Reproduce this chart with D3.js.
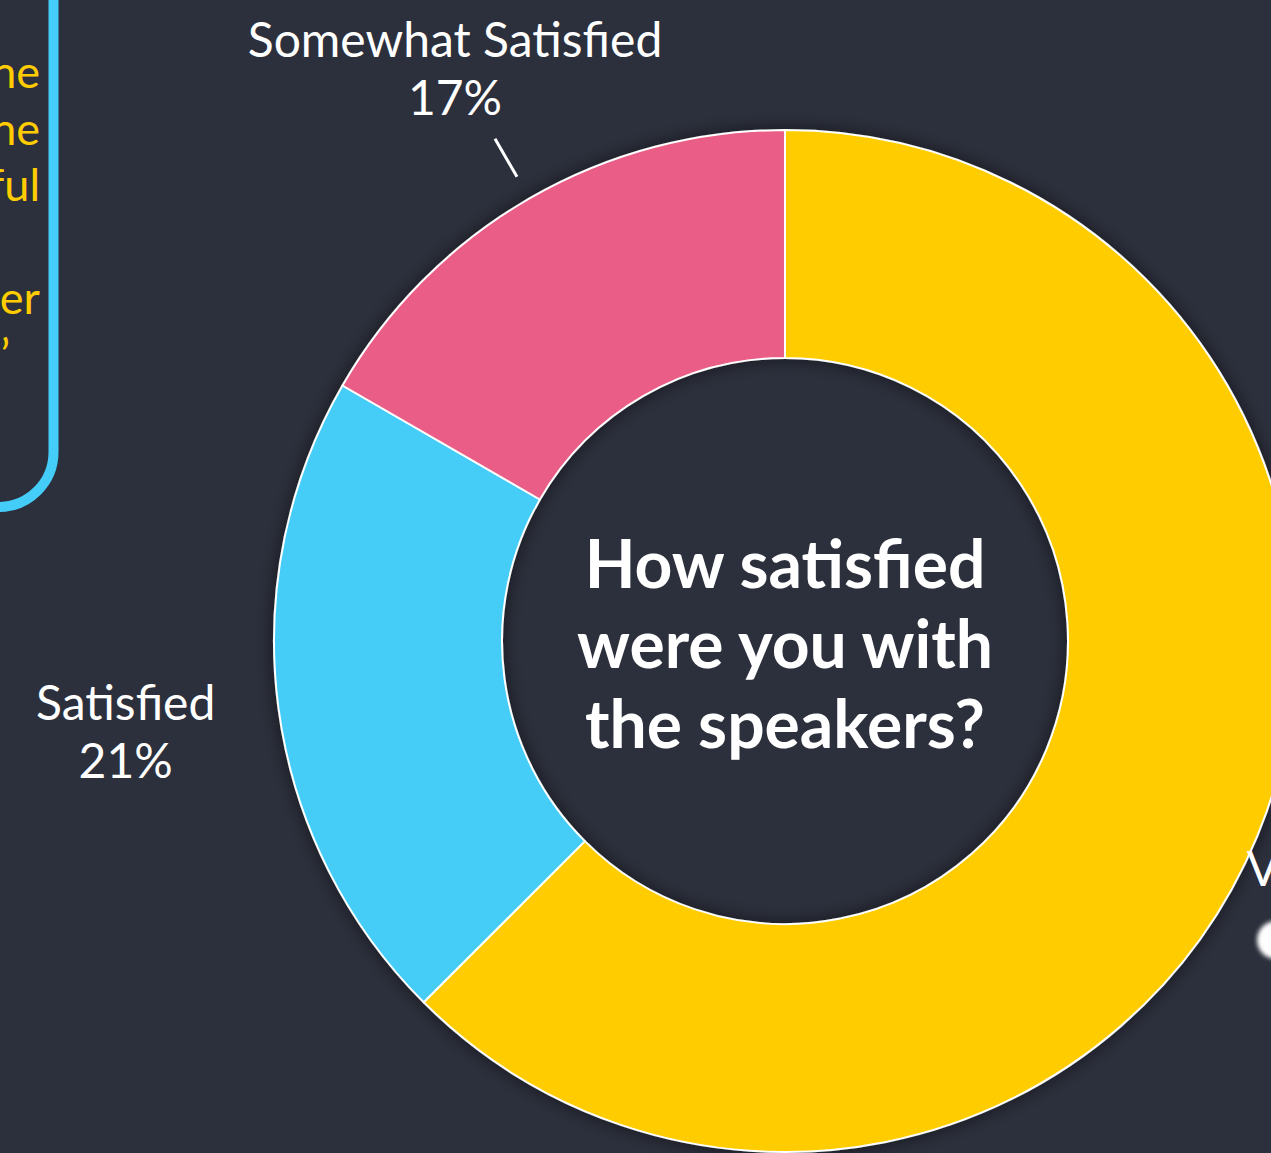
<!DOCTYPE html>
<html>
<head>
<meta charset="utf-8">
<script src="https://cdn.jsdelivr.net/npm/d3@7"></script>
<style>
  html, body { margin: 0; padding: 0; background: #2c303c; overflow: hidden; }
  svg { display: block; }
  text { font-family: Lato, "Open Sans", sans-serif; }
</style>
</head>
<body>
<div id="chart"></div>
<script>
// Câu hỏi: mức độ hài lòng với diễn giả
const categories = ["Very Satisfied", "Satisfied", "Somewhat Satisfied"];
const counts     = [15, 5, 4];           // 62.5% / 20.8% / 16.7%
const colors     = ["#ffcc00", "#44cdf8", "#e95d87"];
const showLeader = [true, false, true];
const title      = ["How satisfied", "were you with", "the speakers?"];
// đoạn văn bị cắt ở mép trái (chỉ thấy phần cuối dòng)
const sideText   = ["ne", "ne", "ful", "", "er"];
const sideTail   = "\u2019";

const width = 1271, height = 1153;
const cx = 785, cy = 641;
const rOuter = 511, rInner = 283;

const svg = d3.select("#chart").append("svg")
  .attr("width", width).attr("height", height);

svg.append("rect").attr("width", width).attr("height", height).attr("fill", "#2c303c");

const defs = svg.append("defs");
const sh = defs.append("filter").attr("id", "shadow")
  .attr("x", "-20%").attr("y", "-20%").attr("width", "140%").attr("height", "140%");
sh.append("feDropShadow").attr("dx", 0).attr("dy", 0)
  .attr("stdDeviation", 9).attr("flood-color", "#000").attr("flood-opacity", 0.55);
const blur = defs.append("filter").attr("id", "blur");
blur.append("feGaussianBlur").attr("stdDeviation", 2);

// 1) Khung xanh bên trái
const pr = 55, px = 53.5, pb = 507;
svg.append("path")
  .attr("d", `M${px},-10 L${px},${pb - pr} A${pr},${pr} 0 0 1 ${px - pr},${pb} L-20,${pb}`)
  .attr("fill", "none").attr("stroke", "#44cdf8").attr("stroke-width", 10);

svg.append("g").selectAll("text")
  .data(sideText)
  .join("text")
  .attr("x", 40)
  .attr("y", (d, i) => 88 + i * 56.5)
  .attr("text-anchor", "end")
  .attr("fill", "#ffcc00")
  .attr("font-size", 45)
  .text(d => d);
svg.append("text")
  .attr("x", 10).attr("y", 88 + 5 * 56.5)
  .attr("text-anchor", "end")
  .attr("fill", "#ffcc00").attr("font-size", 45)
  .text(sideTail);

// 2) Donut
const data = categories.map((c, i) => ({ cat: c, value: counts[i], color: colors[i], leader: showLeader[i] }));
const total = d3.sum(counts);
const pie = d3.pie().sort(null).value(d => d.value);
const arcs = pie(data);
const arc = d3.arc().innerRadius(rInner).outerRadius(rOuter);

const g = svg.append("g").attr("transform", `translate(${cx},${cy})`);

g.append("g").attr("filter", "url(#shadow)")
  .selectAll("path")
  .data(arcs)
  .join("path")
  .attr("d", arc)
  .attr("fill", d => d.data.color)
  .attr("stroke", "#fff")
  .attr("stroke-width", 2)
  .attr("stroke-linejoin", "round");

// 3) Đường dẫn nhãn
const pt = (a, r) => [Math.sin(a) * r, -Math.cos(a) * r];
const mid = d => (d.startAngle + d.endAngle) / 2;

g.selectAll("line.leader")
  .data(arcs.filter(d => d.data.leader))
  .join("line")
  .attr("class", "leader")
  .attr("x1", d => pt(mid(d), 536)[0]).attr("y1", d => pt(mid(d), 536)[1])
  .attr("x2", d => pt(mid(d), 580)[0]).attr("y2", d => pt(mid(d), 580)[1])
  .attr("stroke", "#fff").attr("stroke-width", 3);

// 4) Nhãn tên + phần trăm
const labelR = [655, 665, 660];
const labelDy = [-6, -8, -12];
const lbl = g.selectAll("g.lbl")
  .data(arcs)
  .join("g")
  .attr("class", "lbl")
  .attr("transform", (d, i) => {
    const p = pt(mid(d), labelR[i]);
    return `translate(${p[0]},${p[1] + labelDy[i]})`;
  });

lbl.append("text")
  .attr("text-anchor", "middle")
  .attr("fill", "#fff").attr("font-size", 48)
  .text(d => d.data.cat);
lbl.append("text")
  .attr("y", 58)
  .attr("text-anchor", "middle")
  .attr("fill", "#fff").attr("font-size", 48)
  .text(d => Math.round(d.data.value / total * 100) + "%");

// chấm mờ ở mép phải
svg.append("circle").attr("cx", 1276).attr("cy", 940).attr("r", 19)
  .attr("fill", "#fff").attr("filter", "url(#blur)");

// 5) Tiêu đề ở giữa
g.append("g").selectAll("text")
  .data(title)
  .join("text")
  .attr("y", (d, i) => -53 + i * 80)
  .attr("text-anchor", "middle")
  .attr("fill", "#fff")
  .attr("font-size", 66)
  .attr("font-weight", 700)
  .text(d => d);
</script>
</body>
</html>
